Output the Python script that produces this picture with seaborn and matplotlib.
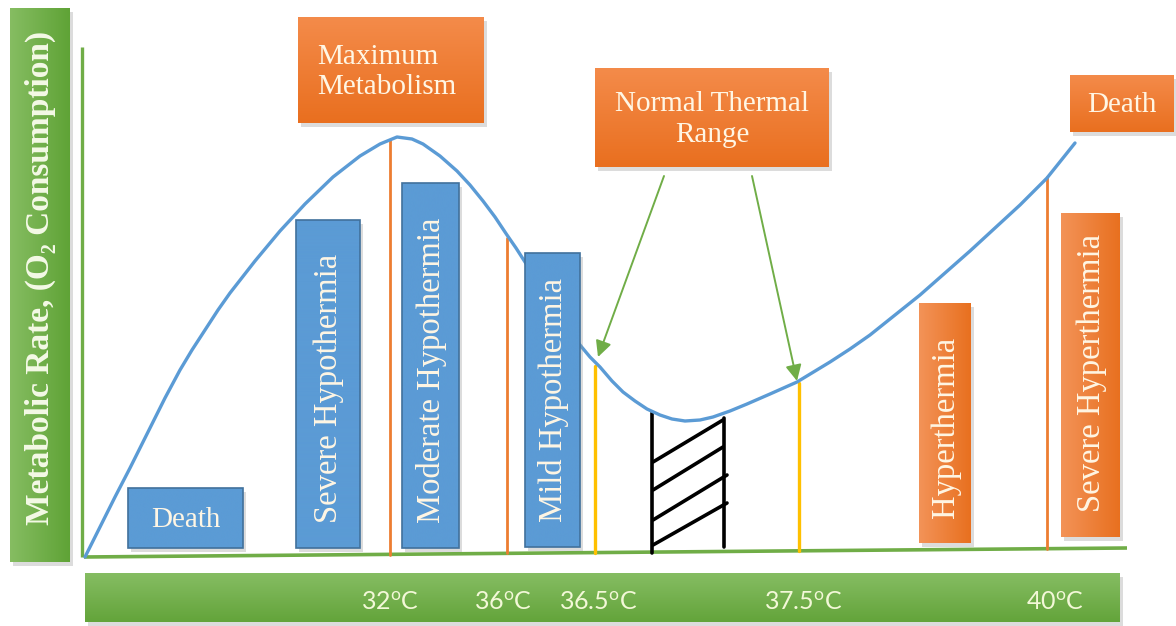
import numpy as np
import pandas as pd
import matplotlib
matplotlib.use("Agg")
import matplotlib.pyplot as plt
import seaborn as sns
from matplotlib.patches import Rectangle
from matplotlib.colors import LinearSegmentedColormap

sns.set_theme(style="white")
plt.rcParams['font.family'] = ['Liberation Serif', 'DejaVu Serif']
plt.rcParams['mathtext.fontset'] = 'custom'

# ---------------- data (diagram) ----------------
curve_x = [85, 100, 115, 130, 150, 165, 180, 192, 205, 218, 230, 255, 280, 305, 333,
           360, 380, 397, 412, 423, 440, 457, 470, 483, 495, 507, 516, 525, 540, 555,
           568, 580, 590, 600, 612, 623, 635, 647, 660, 672, 685, 700, 713, 730, 747,
           770, 797, 830, 850, 870, 895, 920, 945, 970, 995, 1020, 1047, 1075]
curve_y = [557, 527, 497, 468, 428, 398, 370, 350, 330, 310, 293, 261, 231, 204, 177,
           156, 144, 137, 139, 144, 156, 171, 185, 201, 217, 235, 248, 262, 285, 308,
           328, 345, 357, 367, 381, 392, 401, 409, 415, 419, 421, 420, 417, 411, 404,
           394, 382, 362, 349, 335, 315, 295, 273, 251, 228, 205, 178, 143]

tick_labels = ['32', '36', '36.5', '37.5', '40']
tick_x = [390, 503, 598, 803, 1055]

blue_labels = ['Death', 'Severe Hypothermia', 'Moderate Hypothermia', 'Mild Hypothermia']
blue_boxes = [(128, 488, 243, 548), (296, 220, 360, 548), (402, 183, 459, 548), (525, 253, 580, 547)]
blue_rot = [0, 90, 90, 90]

orange_side_labels = ['Hyperthermia', 'Severe Hyperthermia']
orange_side_boxes = [(919, 303, 971, 543), (1061, 213, 1120, 537)]

orange_top_labels = ['Maximum\nMetabolism', 'Normal Thermal\nRange', 'Death']
orange_top_boxes = [(298, 17, 484, 123), (595, 68, 829, 167), (1070, 75, 1174, 132)]

orange_lines = [(390, 140, 555), (507, 238, 553), (1047, 177, 549)]
yellow_lines = [(595, 366, 553), (799, 383, 551)]

hatch_verticals = [(652, 413, 553), (724, 418, 547)]
hatch_diagonals = [((653, 462), (723, 420)), ((653, 490), (723, 447)),
                   ((653, 520), (727, 475)), ((653, 545), (727, 503))]

arrows = [((664, 176), (598, 357)), ((752, 176), (797, 381))]

y_label = 'Metabolic Rate, (O\u2082 Consumption)'

# ---------------- styles ----------------
BLUE = '#5b9bd5'
BLUE_EDGE = '#41719c'
ORANGE = '#ed7d31'
YELLOW = '#ffc000'
GREEN = '#70ad47'
TXT = '#fff6e4'

fig = plt.figure(figsize=(11.76, 6.26), dpi=100)
ax = fig.add_axes([0, 0, 1, 1])


def grad_rect(x0, y0, x1, y1, c0, c1, horizontal=True, z=2, shadow=True, edge=None):
    if shadow:
        ax.add_patch(Rectangle((x0 + 3, y0 + 4), x1 - x0, y1 - y0, color='#8c8c8c',
                               alpha=0.3, lw=0, zorder=z - 0.2))
    cmap = LinearSegmentedColormap.from_list('g', [c0, c1])
    g = np.linspace(0, 1, 256)
    g = g.reshape(1, -1) if horizontal else g.reshape(-1, 1)
    ax.imshow(g, cmap=cmap, extent=(x0, x1, y1, y0), aspect='auto', zorder=z,
              interpolation='bicubic')
    if edge:
        ax.add_patch(Rectangle((x0, y0), x1 - x0, y1 - y0, fill=False, ec=edge, lw=1.2,
                               zorder=z + 0.1))


# green side bar and bottom bar
grad_rect(10, 8, 70, 562, '#86bd62', '#5fa336', horizontal=True, z=2)
ax.text(40, 278, y_label, rotation=90, ha='center', va='center', fontsize=24,
        fontweight='bold', color='#f4f9e6', zorder=5,
        family=['Liberation Serif', 'DejaVu Serif'])
grad_rect(85, 573, 1120, 622, '#86bd63', '#63a43a', horizontal=False, z=2)
for t, x in zip(tick_labels, tick_x):
    ax.text(x, 603, t + r'$^{\mathregular{o}}$C', ha='center', va='center',
            fontsize=18, color='#f3f8d8', family=['Lato', 'DejaVu Sans'], zorder=5)

# axes lines
ax.plot([82, 82], [47, 557], color=GREEN, lw=2.4, zorder=3, solid_capstyle='butt')
ax.plot([84, 1127], [557, 548], color=GREEN, lw=2.6, zorder=3, solid_capstyle='butt')

# vertical markers
for x, y0, y1 in orange_lines:
    ax.plot([x, x], [y0, y1], color=ORANGE, lw=2.0, zorder=3)
for x, y0, y1 in yellow_lines:
    ax.plot([x, x], [y0, y1], color=YELLOW, lw=2.4, zorder=3)

# hatched normal region
for x, y0, y1 in hatch_verticals:
    ax.plot([x, x], [y0, y1], color='black', lw=2.6, zorder=3)
for (xa, ya), (xb, yb) in hatch_diagonals:
    ax.plot([xa, xb], [ya, yb], color='black', lw=2.6, zorder=3)

# blue boxes
for lab, (x0, y0, x1, y1), r in zip(blue_labels, blue_boxes, blue_rot):
    grad_rect(x0, y0, x1, y1, BLUE, BLUE, z=6, edge=BLUE_EDGE)
    if r == 0:
        ax.text((x0 + x1) / 2, (y0 + y1) / 2 + 2, lab, ha='center', va='center',
                fontsize=21, color=TXT, zorder=7)
    else:
        ax.text((x0 + x1) / 2 + 1, y1 - 25, lab, rotation=90, ha='center', va='bottom',
                fontsize=23.5, color=TXT, zorder=7)

# orange side boxes
for lab, (x0, y0, x1, y1) in zip(orange_side_labels, orange_side_boxes):
    grad_rect(x0, y0, x1, y1, '#f39358', '#e8701f', horizontal=True, z=6)
    ax.text((x0 + x1) / 2 + 1, y1 - 25, lab, rotation=90, ha='center', va='bottom',
            fontsize=23.5, color=TXT, zorder=7)

# orange top boxes
for lab, (x0, y0, x1, y1) in zip(orange_top_labels, orange_top_boxes):
    grad_rect(x0, y0, x1, y1, '#f48b4a', '#e96f1f', horizontal=False, z=6)
    if lab.startswith('Maximum'):
        ax.text(x0 + 19, (y0 + y1) / 2 + 2, lab, ha='left', va='center', fontsize=21,
                color=TXT, zorder=7, linespacing=1.25)
    else:
        ax.text((x0 + x1) / 2, (y0 + y1) / 2 + 2, lab, ha='center', va='center',
                fontsize=21, color=TXT, zorder=7, linespacing=1.25)

# metabolic curve
df = pd.DataFrame({'x': curve_x, 'y': curve_y})
sns.lineplot(data=df, x='x', y='y', ax=ax, color=BLUE, lw=2.4, sort=False, zorder=4,
             estimator=None)

# arrows
for (xs, ys), (xe, ye) in arrows:
    ax.annotate('', xy=(xe, ye), xytext=(xs, ys),
                arrowprops=dict(arrowstyle='-|>', color=GREEN, lw=1.4,
                                mutation_scale=24, shrinkA=0, shrinkB=0),
                zorder=8)

ax.set_xlim(0, 1176)
ax.set_ylim(626, 0)
ax.set_axis_off()
fig.savefig('out.png', dpi=100, facecolor='white')
